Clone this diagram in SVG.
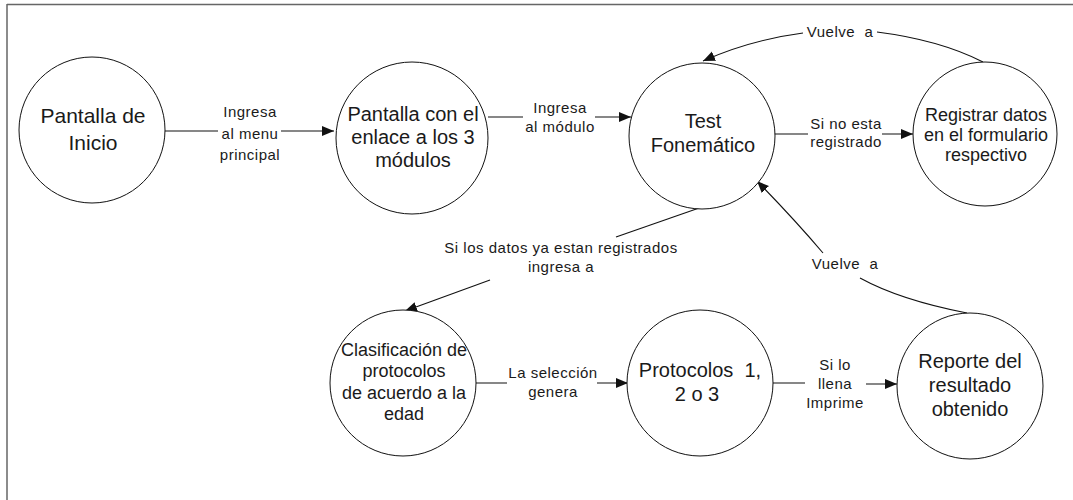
<svg xmlns="http://www.w3.org/2000/svg" width="1073" height="500" viewBox="0 0 1073 500">
<style>
.node circle{fill:#fff;stroke:#111;stroke-width:1}
.nt{font-family:"Liberation Sans",Arial,sans-serif;font-size:20px;fill:#1a1a1a;text-anchor:middle}
.nt18{font-size:18px}
.el{font-family:"Liberation Sans",Arial,sans-serif;font-size:15px;fill:#1a1a1a;text-anchor:middle;letter-spacing:0.5px}
.conn path{fill:none;stroke:#111;stroke-width:1.1}
</style>
<defs>
<marker id="arr" markerUnits="userSpaceOnUse" markerWidth="13" markerHeight="11" refX="12" refY="5" orient="auto">
<path d="M0,0 L12,5 L0,10 z" fill="#111"/>
</marker>
</defs>
<rect width="1073" height="500" fill="#fff"/>
<g id="frame" fill="none" stroke="#666" stroke-width="1.5">
<line x1="7" y1="4.5" x2="1073" y2="4.5"/>
<line x1="7" y1="4" x2="7" y2="500"/>
</g>
<g class="conn" id="connectors">
<path d="M165,131 H218 M281,131 H334" marker-end="url(#arr)"/>
<path d="M488,117 H523 M595,117 H631" marker-end="url(#arr)"/>
<path d="M774,134 H808 M882,134 H913" marker-end="url(#arr)"/>
<path d="M983,62 Q940,40 877,32"/>
<path d="M803,33 Q750,40 703,61" marker-end="url(#arr)"/>
<path d="M967,313 Q900,300 860,278"/>
<path d="M823,253 Q795,220 757,181" marker-end="url(#arr)"/>
<path d="M702,207 L616,237"/>
<path d="M490,280 L405,311" marker-end="url(#arr)"/>
<path d="M476,383 H507 M597,383 H628" marker-end="url(#arr)"/>
<path d="M772,383 H805 M866,384 H897" marker-end="url(#arr)"/>
</g>
<g id="edge-labels">
<text class="el" x="250" y="117">Ingresa</text>
<text class="el" x="250" y="139">al menu</text>
<text class="el" x="250" y="160">principal</text>
<text class="el" x="560" y="113">Ingresa</text>
<text class="el" x="560" y="132">al módulo</text>
<text class="el" x="846" y="129">Si no esta</text>
<text class="el" x="846" y="147">registrado</text>
<text class="el" x="840" y="37" xml:space="preserve">Vuelve  a</text>
<text class="el" x="845" y="269" xml:space="preserve">Vuelve  a</text>
<text class="el" x="561" y="253">Si los datos ya estan registrados</text>
<text class="el" x="561" y="272">ingresa a</text>
<text class="el" x="553" y="378">La selección</text>
<text class="el" x="553" y="397">genera</text>
<text class="el" x="835" y="370">Si lo</text>
<text class="el" x="835" y="389">llena</text>
<text class="el" x="835" y="408">Imprime</text>
</g>
<g class="node" id="n-inicio">
<circle cx="92" cy="130" r="73"/>
<text class="nt" style="font-size:21px" x="93" y="123">Pantalla de</text>
<text class="nt" style="font-size:21px" x="93" y="150">Inicio</text>
</g>
<g class="node" id="n-enlace">
<circle cx="412" cy="138" r="76"/>
<text class="nt" x="413" y="121">Pantalla con el</text>
<text class="nt" x="413" y="144">enlace a los 3</text>
<text class="nt" x="413" y="167">módulos</text>
</g>
<g class="node" id="n-test">
<circle cx="702" cy="136" r="73"/>
<text class="nt" x="703" y="128">Test</text>
<text class="nt" x="703" y="152">Fonemático</text>
</g>
<g class="node" id="n-registrar">
<circle cx="985" cy="134" r="72"/>
<text class="nt nt18" x="986" y="121">Registrar datos</text>
<text class="nt nt18" x="986" y="141">en el formulario</text>
<text class="nt nt18" x="986" y="161">respectivo</text>
</g>
<g class="node" id="n-clasificacion">
<circle cx="403" cy="383" r="73"/>
<text class="nt nt18" x="404" y="356">Clasificación de</text>
<text class="nt nt18" x="404" y="377">protocolos</text>
<text class="nt nt18" x="404" y="399">de acuerdo a la</text>
<text class="nt nt18" x="404" y="420">edad</text>
</g>
<g class="node" id="n-protocolos">
<circle cx="700" cy="383" r="73"/>
<text class="nt" x="700" y="377" xml:space="preserve">Protocolos  1,</text>
<text class="nt" x="697" y="401">2 o 3</text>
</g>
<g class="node" id="n-reporte">
<circle cx="970" cy="386" r="73"/>
<text class="nt" x="970" y="368">Reporte del</text>
<text class="nt" x="970" y="392">resultado</text>
<text class="nt" x="970" y="416">obtenido</text>
</g>
</svg>
